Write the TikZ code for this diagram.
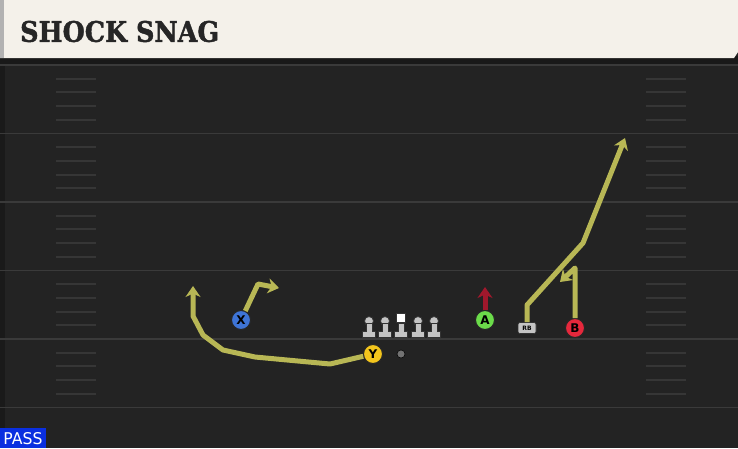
\documentclass[tikz,border=0pt]{standalone}
\usepackage{fontspec}
\setsansfont{DejaVu Sans}
\newfontfamily\titlefont{DejaVu Serif}[BoldFeatures={FakeBold=1.6}]
\usetikzlibrary{arrows.meta}
\definecolor{fieldbg}{HTML}{232323}
\definecolor{yardcol}{HTML}{3A3A3A}
\definecolor{hashcol}{HTML}{363636}
\definecolor{headbg}{HTML}{F4F1EA}
\definecolor{routecol}{HTML}{B8B755}
\definecolor{blockcol}{HTML}{A0182C}
\definecolor{xcol}{HTML}{3E74D6}
\definecolor{ycol}{HTML}{F3C51C}
\definecolor{acol}{HTML}{6BDC4A}
\definecolor{bcol}{HTML}{E5283C}
\definecolor{passcol}{HTML}{0A2FE0}
\definecolor{linecol}{HTML}{C4C4C4}
\tikzset{
  player/.style={circle,draw=black!85,line width=1pt,minimum size=19pt,inner sep=0pt,
    font=\sffamily\bfseries\fontsize{12}{12}\selectfont},
  route/.style={draw=routecol,line width=5pt,line join=round},
  block/.style={draw=blockcol,line width=5pt},
  yardline/.style={draw=yardcol,line width=1.6pt},
  hashmark/.style={draw=hashcol,line width=2pt},
  lineman/.style={fill=linecol,draw=black!80,line width=0.8pt}
}
\begin{document}
\begin{tikzpicture}[x=1pt,y=-1pt,->,>={Stealth[length=11pt,width=15pt,inset=3.5pt]}]
  \useasboundingbox (0,0) rectangle (738,448);
  % field
  \fill[fieldbg] (0,0) rectangle (738,448);
  \fill[black!25!fieldbg] (0,64) rectangle (5,448);
  \foreach \y in {65,133.5,202,270.5,339,407.5}
    \draw[yardline,-] (0,\y) -- (738,\y);
  \foreach \y in {65,133.5,202,270.5,339}
    \foreach \k in {1,...,4}{
      \draw[hashmark,-] (56,\y+13.7*\k) -- (96,\y+13.7*\k);
      \draw[hashmark,-] (646,\y+13.7*\k) -- (686,\y+13.7*\k);
    }
  % header
  \fill[black!90] (0,56) rectangle (738,64);
  \fill[headbg] (0,0) -- (738,0) -- (738,52) -- (734,58) -- (0,58) -- cycle;
  \fill[black!30] (0,0) rectangle (4,58);
  \node[anchor=west,inner sep=0pt,text=black!85] (title) at (20,31.5)
    {\resizebox{199pt}{21pt}{\titlefont\bfseries SHOCK SNAG}};
  % offensive line
  \foreach \x in {369,385,418,434}{
    \fill[lineman] (\x,321) circle (4.5);
  }
  \fill[white,draw=black!80,line width=0.8pt] (396.5,313.5) rectangle (405.5,322.5);
  \foreach \x in {369,385,401,418,434}{
    \fill[lineman]
      (\x-3,323) -- (\x+3,323) -- (\x+3,331.5) -- (\x+6.5,331.5) -- (\x+6.5,337)
      -- (\x-6.5,337) -- (\x-6.5,331.5) -- (\x-3,331.5) -- cycle;
  }
  \fill[black!55,draw=black,line width=0.5pt] (401,354) circle (4);
  % players
  \node[player,fill=xcol] (X) at (241,320) {X};
  \node[player,fill=ycol] (Y) at (373,354) {Y};
  \node[player,fill=acol] (A) at (485,320) {A};
  \node[player,fill=bcol] (B) at (575,328) {B};
  \node[rounded corners=2pt,fill=linecol,draw=black!80,line width=0.6pt,minimum width=18pt,
    minimum height=11pt,inner sep=0pt,font=\sffamily\bfseries\fontsize{6}{6}\selectfont] (RB) at (527,328) {RB};
  % routes
  \coordinate (x1) at (258,284);
  \coordinate (x2) at (279,288);
  \draw[route] (X) -- (x1) -- (x2);
  \coordinate (y1) at (330,364);
  \coordinate (y2) at (255,357);
  \coordinate (y3) at (223,350);
  \coordinate (y4) at (203,335);
  \coordinate (y5) at (193,316);
  \coordinate (y6) at (193,286);
  \draw[route] (Y) -- (y1) -- (y2) -- (y3) -- (y4) -- (y5) -- (y6);
  \coordinate (a1) at (485,287);
  \draw[block] (A) -- (a1);
  \coordinate (r1) at (527,305);
  \coordinate (r2) at (583,243);
  \coordinate (r3) at (625,138);
  \draw[route] (RB) -- (r1) -- (r2) -- (r3);
  \coordinate (b1) at (575,268);
  \coordinate (b2) at (560,282);
  \draw[route] (B) -- (b1) -- (b2);
  % play type
  \fill[passcol] (0,428) rectangle (46,448);
  \node[text=white,inner sep=0pt] (pass) at (23,438.5)
    {\resizebox{39pt}{12pt}{\sffamily PASS}};
\end{tikzpicture}
\end{document}
